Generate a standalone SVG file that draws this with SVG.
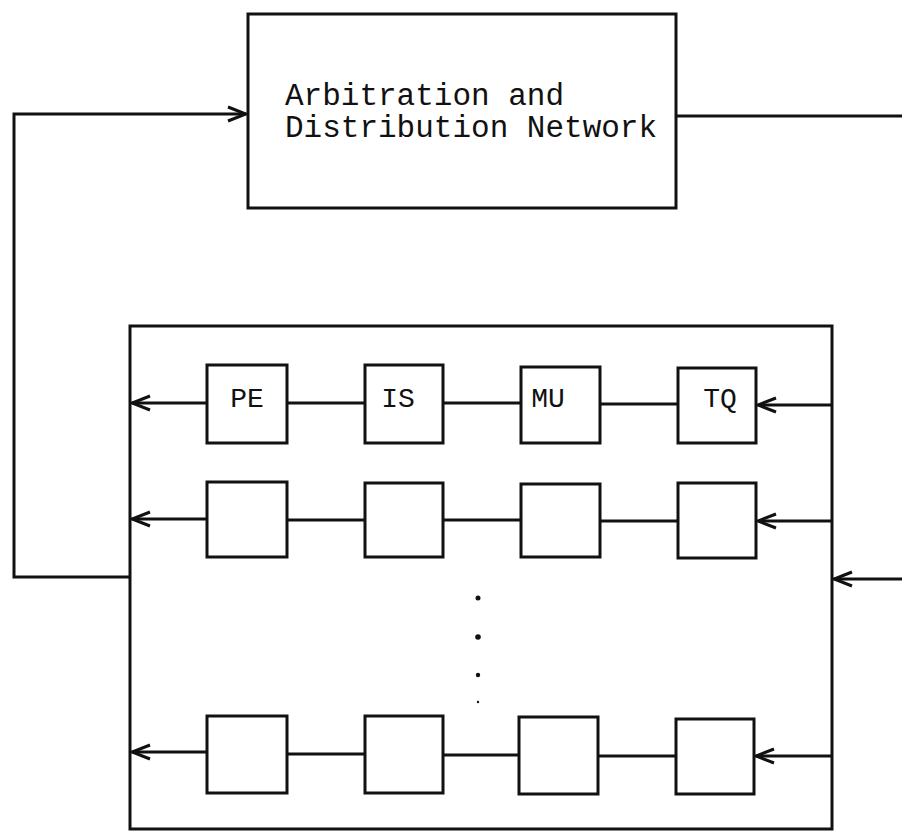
<svg xmlns="http://www.w3.org/2000/svg" width="902" height="832" viewBox="0 0 902 832">
  <style>
    .box { fill: none; stroke: #111; stroke-width: 3; }
    .wire { fill: none; stroke: #111; stroke-width: 3; }
    .lbl { font-family: "Liberation Mono", "DejaVu Sans Mono", monospace; fill: #111; }
    .big { font-size: 31px; }
    .small { font-size: 28px; }
  </style>
  <defs>
    <marker id="arrow" markerWidth="22" markerHeight="18" refX="20" refY="9" orient="auto" markerUnits="userSpaceOnUse">
      <path d="M2,2 L20,9 L2,16" fill="none" stroke="#111" stroke-width="3"/>
    </marker>
  </defs>
  <rect width="902" height="832" fill="#fff"/>

  <g id="network">
    <rect class="box" x="248" y="14" width="428" height="194"/>
    <text class="lbl big" x="285" y="105">Arbitration and</text>
    <text class="lbl big" x="285" y="137">Distribution Network</text>
  </g>

  <g id="array">
    <rect class="box" x="130" y="326" width="702" height="503"/>
  </g>

  <g id="pe1"><rect class="box" x="207" y="365" width="80" height="78"/><text class="lbl small" x="247" y="407" text-anchor="middle">PE</text></g>
  <g id="is1"><rect class="box" x="365" y="365" width="78" height="78"/><text class="lbl small" x="398" y="407" text-anchor="middle">IS</text></g>
  <g id="mu1"><rect class="box" x="521" y="367" width="79" height="76"/><text class="lbl small" x="548" y="407" text-anchor="middle">MU</text></g>
  <g id="tq1"><rect class="box" x="678" y="368" width="78" height="75"/><text class="lbl small" x="720" y="407" text-anchor="middle">TQ</text></g>

  <g id="pe2"><rect class="box" x="207" y="482" width="80" height="75"/></g>
  <g id="is2"><rect class="box" x="365" y="483" width="78" height="74"/></g>
  <g id="mu2"><rect class="box" x="521" y="484" width="79" height="73"/></g>
  <g id="tq2"><rect class="box" x="678" y="483" width="78" height="75"/></g>

  <g id="pe3"><rect class="box" x="207" y="716" width="80" height="77"/></g>
  <g id="is3"><rect class="box" x="365" y="716" width="78" height="77"/></g>
  <g id="mu3"><rect class="box" x="519" y="717" width="79" height="77"/></g>
  <g id="tq3"><rect class="box" x="676" y="719" width="78" height="75"/></g>

  <g id="ellipsis" fill="#111">
    <circle cx="478" cy="598" r="2.5"/>
    <circle cx="478" cy="637" r="2.8"/>
    <circle cx="478" cy="675" r="2.2"/>
    <circle cx="478" cy="702" r="1.2"/>
  </g>

  <g id="connectors">
    <!-- feedback loop into the network -->
    <polyline class="wire" points="130,577 14,577 14,114 246,114" marker-end="url(#arrow)"/>
    <!-- network output running off to the right -->
    <line class="wire" x1="676" y1="116" x2="902" y2="116"/>
    <!-- input into the array from the right -->
    <line class="wire" x1="902" y1="579" x2="834" y2="579" marker-end="url(#arrow)"/>

    <!-- row 1 -->
    <line class="wire" x1="207" y1="403" x2="132" y2="403" marker-end="url(#arrow)"/>
    <line class="wire" x1="287" y1="403" x2="365" y2="403"/>
    <line class="wire" x1="443" y1="403" x2="521" y2="403"/>
    <line class="wire" x1="600" y1="404" x2="678" y2="404"/>
    <line class="wire" x1="832" y1="405" x2="758" y2="405" marker-end="url(#arrow)"/>

    <!-- row 2 -->
    <line class="wire" x1="207" y1="519" x2="132" y2="519" marker-end="url(#arrow)"/>
    <line class="wire" x1="287" y1="520" x2="365" y2="520"/>
    <line class="wire" x1="443" y1="520" x2="521" y2="520"/>
    <line class="wire" x1="600" y1="521" x2="678" y2="521"/>
    <line class="wire" x1="832" y1="521" x2="758" y2="521" marker-end="url(#arrow)"/>

    <!-- last row -->
    <line class="wire" x1="207" y1="752" x2="132" y2="752" marker-end="url(#arrow)"/>
    <line class="wire" x1="287" y1="754" x2="365" y2="754"/>
    <line class="wire" x1="443" y1="755" x2="519" y2="755"/>
    <line class="wire" x1="598" y1="756" x2="676" y2="756"/>
    <line class="wire" x1="832" y1="756" x2="756" y2="756" marker-end="url(#arrow)"/>
  </g>
</svg>
